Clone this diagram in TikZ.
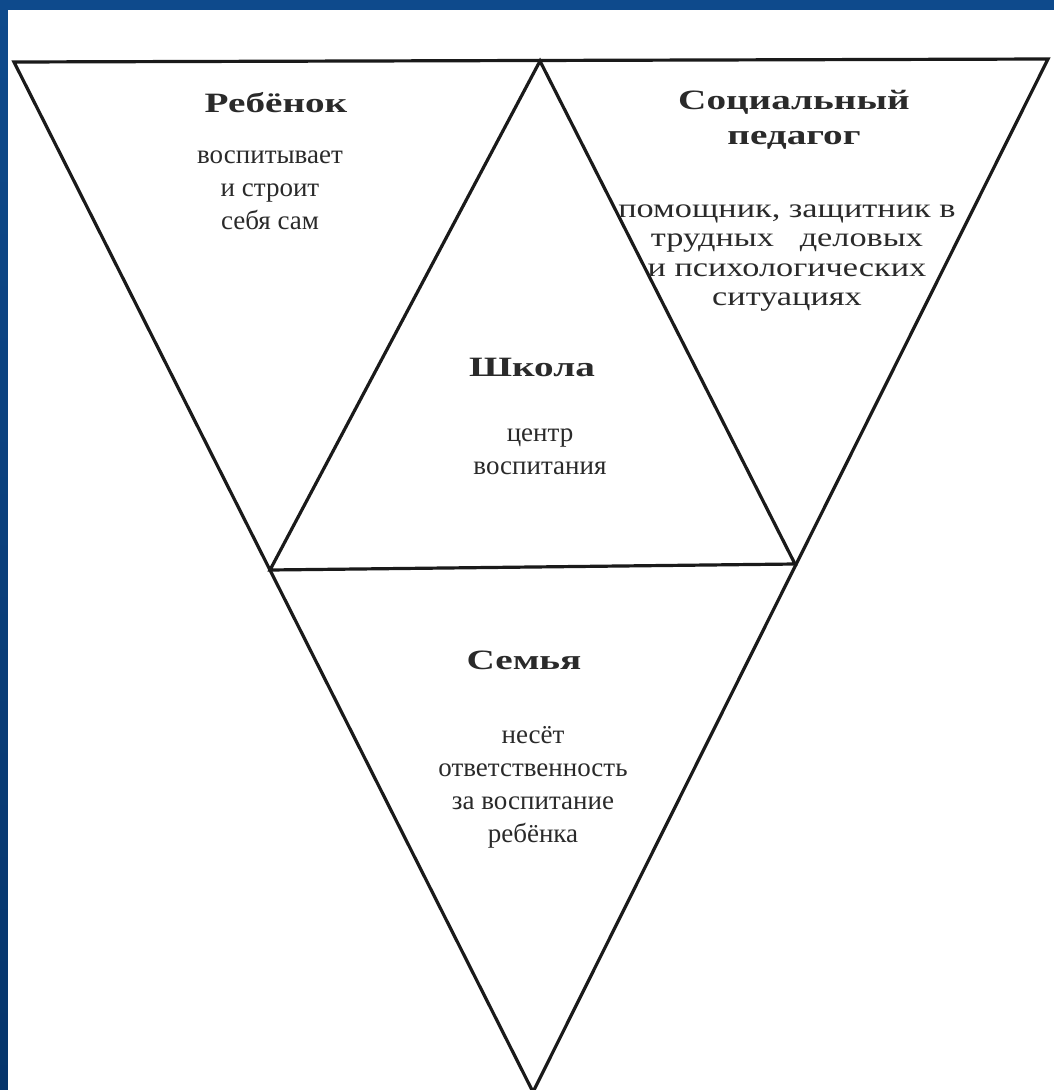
\documentclass[tikz,border=0pt]{standalone}
\usepackage{fontspec}
\setmainfont{Liberation Serif}
\newfontfamily\headfont[FakeStretch=1.4]{Liberation Serif}
\newfontfamily\widefont[FakeStretch=1.27]{Liberation Serif}
\usepackage{tikz}
\usetikzlibrary{calc}
\definecolor{slideblue}{HTML}{0E4A8C}
\definecolor{slidedark}{HTML}{06356B}
\definecolor{inkline}{HTML}{1A1A1A}
\definecolor{inktext}{HTML}{2A2A2A}

\begin{document}
\begin{tikzpicture}[x=1pt,y=-1pt,
		edge/.style={draw,inkline,line width=3.2pt,line join=miter},
		head/.style={inner sep=0pt,text=inktext,font=\headfont\fontsize{28}{35}\selectfont\bfseries,align=center},
		note/.style={inner sep=0pt,text=inktext,font=\fontsize{27}{33}\selectfont,align=center}]

		% slide frame
		\fill[slideblue] (0,0) rectangle (1054,1090);
		\shade[top color=slideblue,bottom color=slidedark] (0,0) rectangle (8,1090);
		\fill[white] (8,10) rectangle (1054,1090);
		\useasboundingbox (0,0) rectangle (1054,1090);

		% corners
		\coordinate (tl) at (14,62);
		\coordinate (tr) at (1048,59);
		\coordinate (bot) at (533,1092);
		\coordinate (top) at (540,61);
		\coordinate (ml) at (270,570);
		\coordinate (mr) at (795,564);

		\draw[edge] (tl) -- (tr) -- (bot) -- cycle;
		\draw[edge] (ml) -- (top) -- (mr) -- cycle;

		% texts
		\node[head] (child) at (276,103) {Ребёнок};
		\node[note] (childtxt) at (270,190) {воспитывает\\и строит\\себя сам};

		\node[head] (pedagog) at (794,120) {Социальный\\педагог};
		\node[note,font=\widefont\fontsize{27}{29.5}\selectfont] (pedtxt) at (787,258) {помощник, защитник в\\трудных\ \ \ деловых\\и психологических\\ситуациях};

		\node[head] (school) at (532,367) {Школа};
		\node[note] (schooltxt) at (540,452) {центр\\воспитания};

		\node[head] (family) at (524,660) {Семья};
		\node[note] (familytxt) at (533,787) {несёт\\ответственность\\за воспитание\\ребёнка};
	\end{tikzpicture}
\end{document}
